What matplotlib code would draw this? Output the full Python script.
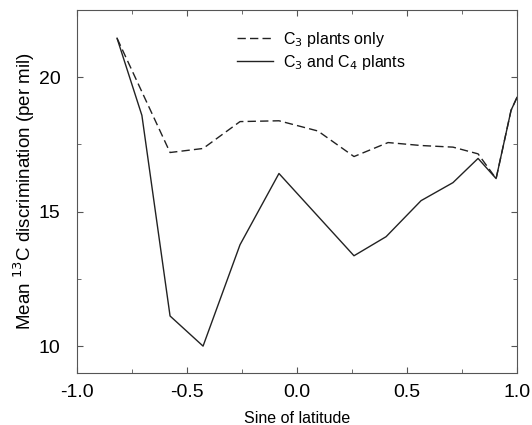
import matplotlib
matplotlib.use("Agg")
import matplotlib.pyplot as plt
from matplotlib.ticker import MultipleLocator

plt.rcParams['font.family'] = ['Liberation Sans', 'DejaVu Sans']

# sine of latitude
x_c3 = [-0.818, -0.577, -0.427, -0.259, -0.082, 0.095, 0.259, 0.414, 0.564, 0.709, 0.823, 0.905, 0.973, 1.0]
y_c3 = [21.45, 17.2, 17.35, 18.35, 18.38, 18.0, 17.05, 17.57, 17.46, 17.4, 17.15, 16.23, 18.77, 19.25]

x_c34 = [-0.818, -0.705, -0.577, -0.427, -0.259, -0.082, 0.259, 0.405, 0.564, 0.709, 0.823, 0.905, 0.973, 1.0]
y_c34 = [21.45, 18.58, 11.12, 10.0, 13.77, 16.42, 13.36, 14.07, 15.41, 16.08, 16.98, 16.23, 18.77, 19.25]

fig = plt.figure(figsize=(5.32, 4.25), dpi=100)
ax = fig.add_axes([77/532, 52/425, 440/532, 363/425])

ax.plot(x_c3, y_c3, color='#222222', lw=1.0, dashes=(6, 3), label='C$_3$ plants only')
ax.plot(x_c34, y_c34, color='#222222', lw=1.0, label='C$_3$ and C$_4$ plants')

ax.set_xlim(-1.0, 1.0)
ax.set_ylim(9.0, 22.5)
ax.xaxis.set_major_locator(MultipleLocator(0.5))
ax.xaxis.set_minor_locator(MultipleLocator(0.25))
ax.yaxis.set_major_locator(MultipleLocator(5))
ax.yaxis.set_minor_locator(MultipleLocator(2.5))
ax.xaxis.set_major_formatter(plt.FuncFormatter(lambda v, p: '%.1f' % v))
ax.tick_params(which='both', direction='in', top=True, right=True, labelsize=14, color='#555555')
ax.tick_params(which='major', length=4)
ax.tick_params(axis='x', which='major', pad=8)
ax.tick_params(axis='y', which='major', pad=12)
ax.tick_params(which='minor', length=3)
for s in ax.spines.values():
    s.set_color('#555555')
    s.set_linewidth(0.8)

ax.set_xlabel('Sine of latitude', fontsize=11.5, labelpad=7)
ax.set_ylabel('Mean $^{13}$C discrimination (per mil)', fontsize=13.5, labelpad=1)

leg = ax.legend(loc='upper left', bbox_to_anchor=(0.33, 0.985), frameon=False, fontsize=11.5,
                handlelength=2.3, handletextpad=0.6, labelspacing=0.25)

fig.savefig('out.png', dpi=100)
